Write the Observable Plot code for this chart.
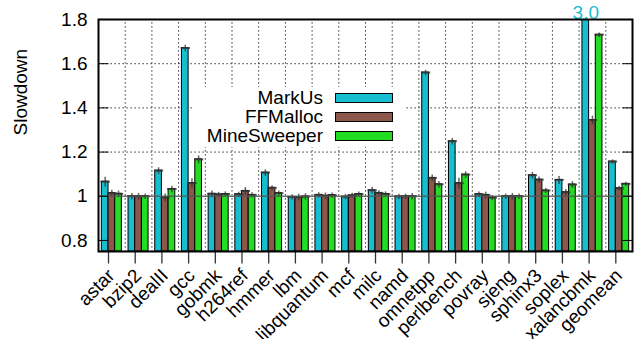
<!DOCTYPE html>
<html>
<head>
<meta charset="utf-8">
<script src="https://cdn.jsdelivr.net/npm/d3@7"></script>
<script src="https://cdn.jsdelivr.net/npm/@observablehq/plot@0.6"></script>
<style>
  html, body { margin: 0; padding: 0; background: #fff; }
  #wrap { position: relative; width: 635px; height: 339px; font-family: "Liberation Sans", Arial, sans-serif; }
  #wrap svg { font-family: "Liberation Sans", Arial, sans-serif; overflow: visible; }
  #legend { position: absolute; left: 192px; top: 87px; width: 213px; height: 60px; background: #fff; }
  .row { position: absolute; left: 0; width: 213px; height: 19px; }
  .lab { position: absolute; right: 82px; top: 0; font-size: 19px; line-height: 19px; color: #000; white-space: nowrap; }
  .sw { position: absolute; left: 143px; top: 5px; width: 56px; height: 8px; border: 1px solid #000; }
</style>
</head>
<body>
<div id="wrap"></div>
<script>
const categories = ["astar","bzip2","dealII","gcc","gobmk","h264ref","hmmer","lbm","libquantum","mcf","milc","namd","omnetpp","perlbench","povray","sjeng","sphinx3","soplex","xalancbmk","geomean"];
const seriesNames = ["MarkUs","FFMalloc","MineSweeper"];
const seriesColors = ["#17becf","#8c564b","#22dd22"];
const markus      = [1.066,1.000,1.116,1.671,1.011,1.009,1.107,0.997,1.006,0.998,1.027,0.999,1.560,1.249,1.009,1.000,1.095,1.074,3.0,1.157];
const ffmalloc    = [1.014,1.000,0.995,1.060,1.008,1.024,1.038,0.996,1.002,1.004,1.015,1.000,1.083,1.059,1.006,1.000,1.075,1.018,1.345,1.036];
const minesweeper = [1.011,1.000,1.033,1.167,1.010,1.006,1.014,0.999,1.005,1.010,1.010,1.000,1.054,1.098,0.994,1.000,1.026,1.053,1.731,1.056];
const errMarkus      = [0.022,0.015,0.015,0.015,0.015,0.012,0.015,0.012,0.012,0.012,0.015,0.012,0.012,0.015,0.012,0.012,0.015,0.018,0.0,0.010];
const errFFMalloc    = [0.015,0.015,0.018,0.022,0.012,0.018,0.012,0.015,0.015,0.012,0.012,0.012,0.015,0.025,0.015,0.015,0.015,0.015,0.020,0.010];
const errMineSweeper = [0.015,0.012,0.015,0.018,0.012,0.012,0.012,0.015,0.012,0.012,0.012,0.015,0.015,0.015,0.012,0.012,0.012,0.015,0.010,0.010];
const yTicks = [0.8,1,1.2,1.4,1.6,1.8];
const yGrid = [1.2,1.4,1.6];
const overflowLabel = "3.0";

const values = [markus, ffmalloc, minesweeper];
const errs = [errMarkus, errFFMalloc, errMineSweeper];
const yMin = 0.75, yMax = 1.8;
const bw = 0.25;
const rows = [];
seriesNames.forEach((s, k) => {
  categories.forEach((c, i) => {
    rows.push({cat: c, series: s, k, i, v: values[k][i], e: errs[k][i],
      x1: i + (k - 1.5) * bw, x2: i + (k - 0.5) * bw, xc: i + (k - 1) * bw});
  });
});
const xMin = -0.5, xMax = categories.length - 0.5;
const pxPerX = 534 / categories.length;
const pxPerY = 232 / (yMax - yMin);
const inTickX = 10 / pxPerX;
const inTickY = 12 / pxPerY;
const tickRows = categories.map((c, i) => ({cat: c, x: i - bw / 2}));
const gridXRows = categories.slice(1).map((c, i) => ({x: i + 0.5}));
const gridYRows = yGrid.map(v => ({y: v}));
const yTickRows = yTicks.map(v => ({y: v}));
const baseRows = [{y: 1}];
const errRows = rows.filter(d => d.e > 0 && d.v <= yMax);
const capRows = rows.filter(d => d.v <= yMax);
const overflow = rows.filter(d => d.v > yMax);

const chart = Plot.plot({
  width: 635, height: 339,
  marginLeft: 98, marginRight: 3, marginTop: 19, marginBottom: 88,
  x: {domain: [xMin, xMax], type: "linear", label: null, axis: null},
  y: {domain: [yMin, yMax], label: null, axis: null},
  marks: [
    Plot.link(gridXRows, {x1: "x", x2: "x", y1: yMin, y2: yMax, stroke: "#000", strokeDasharray: "1.2,2.8", strokeWidth: 1}),
    Plot.link(gridYRows, {y1: "y", y2: "y", x1: xMin, x2: xMax, stroke: "#000", strokeDasharray: "1.2,2.8", strokeWidth: 1}),
    Plot.rectY(rows, {x1: "x1", x2: "x2", y1: yMin, y2: "v", fill: d => seriesColors[d.k], stroke: "#000", strokeWidth: 1, clip: true}),
    Plot.link(errRows, {x1: "xc", x2: "xc", y1: d => d.v - d.e, y2: d => d.v + d.e, stroke: "#333", strokeOpacity: 0.75, strokeWidth: 1.5}),
    Plot.link(capRows, {y1: "v", y2: "v", x1: d => d.x1 - 0.05, x2: d => d.x2 + 0.05, stroke: "#333", strokeOpacity: 0.8, strokeWidth: 2}),
    Plot.link(baseRows, {y1: "y", y2: "y", x1: xMin, x2: xMax, stroke: "#555", strokeOpacity: 0.85, strokeWidth: 1.5}),
    Plot.link(yTickRows, {y1: "y", y2: "y", x1: xMin, x2: xMin + inTickX, stroke: "#000", strokeWidth: 1}),
    Plot.link(yTickRows, {y1: "y", y2: "y", x1: xMax - inTickX, x2: xMax, stroke: "#000", strokeWidth: 1}),
    Plot.text(yTickRows, {y: "y", text: d => String(d.y), frameAnchor: "left", dx: -11, textAnchor: "end", lineAnchor: "middle", fontSize: 19, fill: "#000"}),
    Plot.link(tickRows, {x1: "x", x2: "x", y1: yMin, y2: yMin - inTickY, stroke: "#333", strokeWidth: 1.3}),
    Plot.text(tickRows, {x: "x", text: "cat", frameAnchor: "bottom", dx: 3, dy: 21, rotate: -45, textAnchor: "end", lineAnchor: "middle", fontSize: 19, fill: "#000"}),
    Plot.text(["Slowdown"], {frameAnchor: "left", dx: -78, rotate: -90, lineAnchor: "middle", fontSize: 19, fill: "#000"}),
    Plot.text(overflow, {x: "xc", text: () => overflowLabel, frameAnchor: "top", dy: -7, lineAnchor: "middle", fontSize: 19, fill: d => seriesColors[d.k]}),
    Plot.frame({stroke: "#000", strokeWidth: 2})
  ]
});

const wrap = document.getElementById("wrap");
wrap.appendChild(chart);
const legend = document.createElement("div");
legend.id = "legend";
seriesNames.forEach((s, k) => {
  const row = document.createElement("div");
  row.className = "row";
  row.style.top = (1 + k * 19.2) + "px";
  const lab = document.createElement("div");
  lab.className = "lab";
  lab.textContent = s;
  const sw = document.createElement("div");
  sw.className = "sw";
  sw.style.background = seriesColors[k];
  row.appendChild(lab);
  row.appendChild(sw);
  legend.appendChild(row);
});
wrap.appendChild(legend);
</script>
</body>
</html>
